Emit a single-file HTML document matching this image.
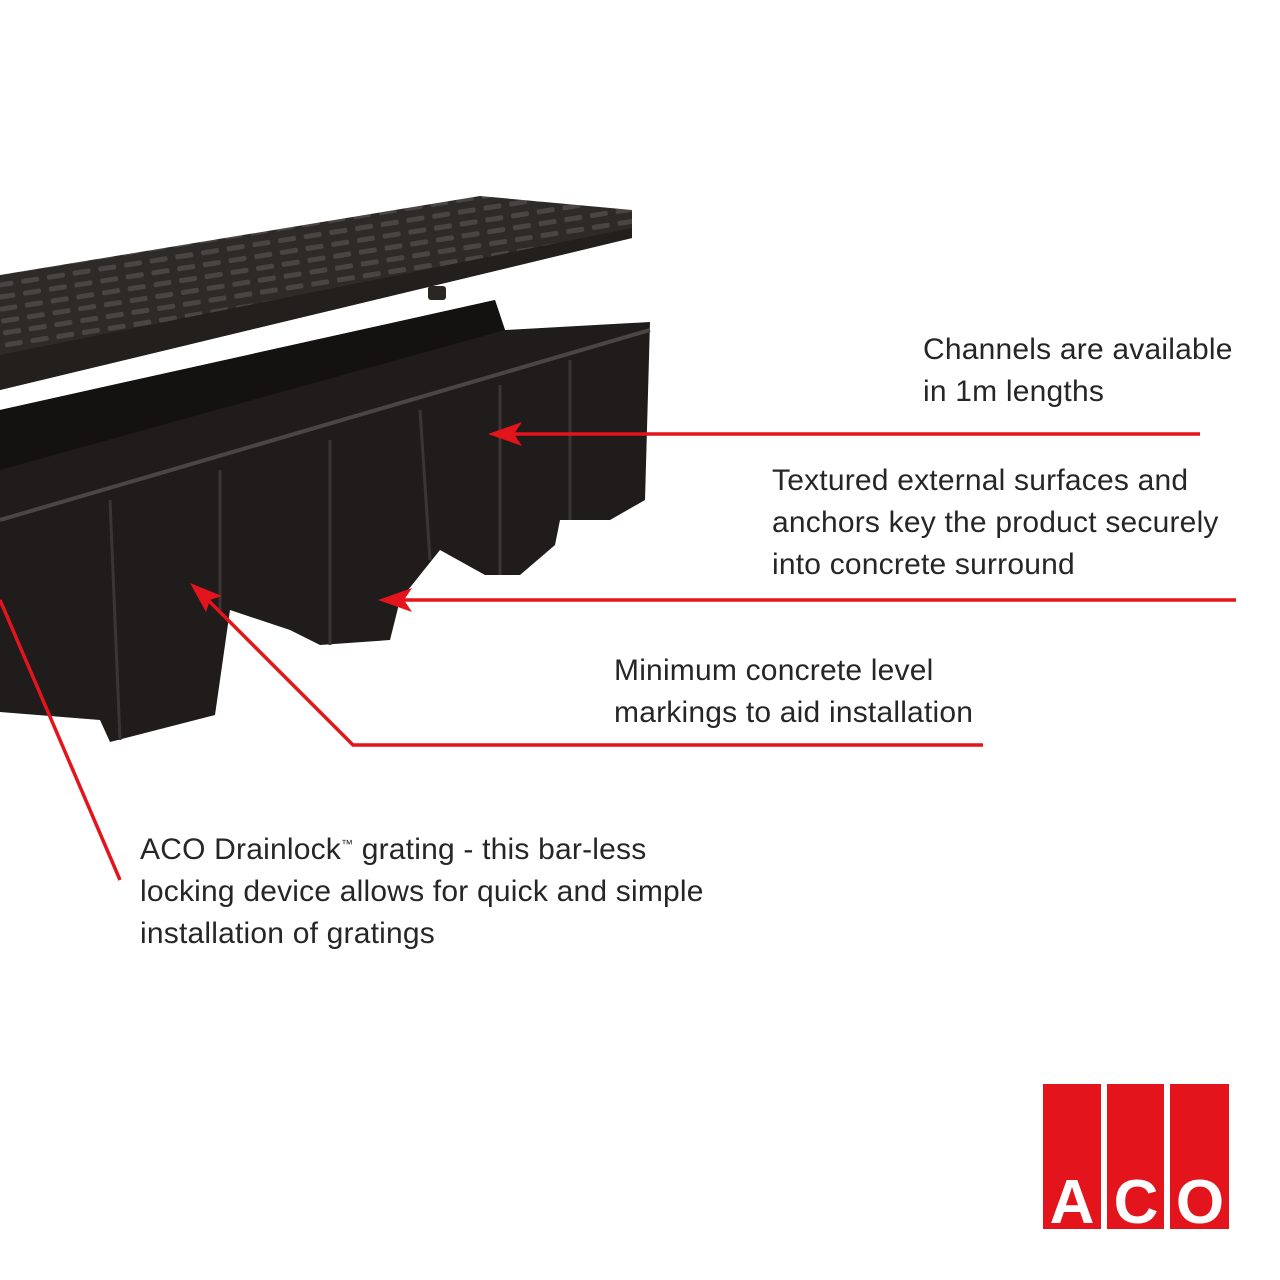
<!DOCTYPE html>
<html><head><meta charset="utf-8"><style>
html,body{margin:0;padding:0;background:#fff;}
.wrap{position:relative;width:1280px;height:1280px;overflow:hidden;background:#fff;font-family:"Liberation Sans",sans-serif;}
.t{position:absolute;font-size:30px;line-height:42px;color:#262626;white-space:nowrap;letter-spacing:0.2px;}
</style></head><body><div class="wrap">
<svg width="1280" height="1280" style="position:absolute;left:0;top:0">
<defs>
<pattern id="gr" width="26" height="12" patternUnits="userSpaceOnUse" patternTransform="rotate(-9)">
<rect width="26" height="12" fill="#2e2a28"/>
<rect x="3" y="3" width="18" height="5" rx="2" fill="#4a4542"/>
</pattern>
</defs>
<polygon points="0,410 495,300 505,330 650,322 645,500 610,520 560,520 555,545 520,575 485,575 440,550 400,600 390,640 320,645 290,630 230,610 215,715 110,742 100,720 0,712" fill="#1f1c1b"/>
<polygon points="0,410 495,300 505,330 0,470" fill="#141211"/>
<polyline points="0,520 650,330" stroke="#4a4644" stroke-width="4" fill="none"/>
<g stroke="#3a3634" stroke-width="3">
<line x1="110" y1="500" x2="120" y2="740"/><line x1="220" y1="470" x2="220" y2="610"/>
<line x1="330" y1="440" x2="330" y2="645"/><line x1="420" y1="410" x2="430" y2="560"/>
<line x1="500" y1="385" x2="500" y2="575"/><line x1="570" y1="360" x2="570" y2="520"/>
</g>
<polygon points="0,275 480,196 632,210 632,238 0,390" fill="url(#gr)"/>
<polygon points="0,355 632,228 632,238 0,390" fill="#221f1d"/>
<rect x="428" y="286" width="18" height="14" rx="3" fill="#2a2624"/>
<g stroke="#e3141b" stroke-width="3.5" fill="none">
<line x1="1200" y1="434" x2="505" y2="434"/>
<line x1="1236" y1="600" x2="395" y2="600"/>
<polyline points="983,745 353,745 205,597"/>
<line x1="120" y1="880" x2="0" y2="600"/>
</g>
<g fill="#e3141b">
<polygon points="488,434 522,422 514,434 522,446"/>
<polygon points="378,600 412,588 404,600 412,612"/>
<polygon points="190,583 222,596 210,600 206,612"/>
</g>
<g fill="#e3141b">
<rect x="1043" y="1084" width="58" height="145"/>
<rect x="1107" y="1084" width="57" height="145"/>
<rect x="1170" y="1084" width="59" height="145"/>
</g>
<g fill="#fff" font-family="Liberation Sans,sans-serif" font-weight="bold" font-size="62" text-anchor="middle">
<text x="1072" y="1223">A</text><text x="1136" y="1223">C</text><text x="1200" y="1223">O</text>
</g>
</svg>
<div class="t" style="left:923px;top:329px">Channels are available<br>in 1m lengths</div>
<div class="t" style="left:772px;top:460px">Textured external surfaces and<br>anchors key the product securely<br>into concrete surround</div>
<div class="t" style="left:614px;top:650px">Minimum concrete level<br>markings to aid installation</div>
<div class="t" style="left:140px;top:823px">ACO Drainlock<sup style="font-size:12px">™</sup> grating - this bar-less<br>locking device allows for quick and simple<br>installation of gratings</div>
</div></body></html>
